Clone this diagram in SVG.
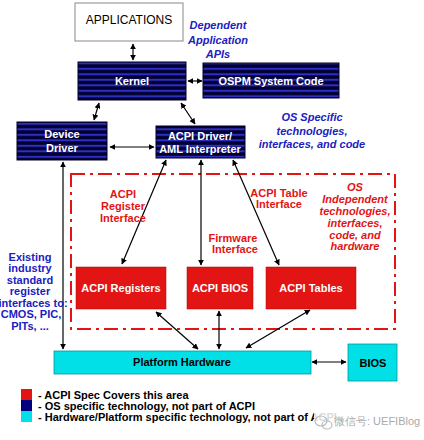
<svg xmlns="http://www.w3.org/2000/svg" width="424" height="440" viewBox="0 0 424 440">
<style>
text{font-family:"Liberation Sans",Arial,sans-serif;}
.nav{fill:url(#stripes);stroke:#000022;stroke-width:1}
.red{fill:#e31414;stroke:#b00000;stroke-width:0.5}
.cy{fill:#00e0e6;stroke:#009aa0;stroke-width:0.8}
.wl{fill:#ffffff;font-weight:bold;font-size:11px;text-anchor:middle}
.bl{fill:#000000;font-weight:bold;font-size:11px;text-anchor:middle}
.blue{fill:#2020c0;font-weight:bold;font-style:italic;font-size:11px;text-anchor:middle}
.blue2{fill:#2020c0;font-weight:bold;font-size:11px;text-anchor:middle}
.rl{fill:#e31414;font-weight:bold;font-size:11px;text-anchor:middle}
.ri{fill:#e31414;font-weight:bold;font-style:italic;font-size:11px;text-anchor:middle}
.lg{fill:#000000;font-weight:bold;font-size:11px}
.c{stroke:#000;stroke-width:1.2;fill:none;marker-start:url(#ah);marker-end:url(#ah)}
</style>
<defs>
<pattern id="stripes" patternUnits="userSpaceOnUse" width="8" height="5.5">
<rect width="8" height="5.5" fill="#000033"/>
<rect y="1.8" width="8" height="2" fill="#3030c0"/>
</pattern>
<marker id="ah" viewBox="0 0 10 10" refX="9" refY="5" markerWidth="6" markerHeight="6" orient="auto-start-reverse" markerUnits="userSpaceOnUse">
<path d="M0,0 L10,5 L0,10 z" fill="#000"/>
</marker>
</defs>

<g id="boundary">
<rect x="71" y="174" width="324" height="155" fill="none" stroke="#e31414" stroke-width="2" stroke-dasharray="14,5,3,5"/>
</g>

<g id="connectors">
<line class="c" x1="133" y1="44" x2="133" y2="60"/>
<line class="c" x1="188" y1="81" x2="202" y2="81"/>
<line class="c" x1="99" y1="103" x2="94" y2="120"/>
<line class="c" x1="181" y1="103" x2="195" y2="124"/>
<line class="c" x1="110" y1="147" x2="154" y2="147"/>
<line class="c" x1="166" y1="160" x2="122" y2="264"/>
<line class="c" x1="201" y1="160" x2="201" y2="265"/>
<line class="c" x1="233" y1="160" x2="279" y2="265"/>
<line class="c" x1="63" y1="162" x2="63" y2="349"/>
<line class="c" x1="156" y1="312" x2="198" y2="349"/>
<line class="c" x1="219" y1="311" x2="219" y2="349"/>
<line class="c" x1="310" y1="310" x2="246" y2="348"/>
<line class="c" x1="312" y1="362" x2="346" y2="362"/>
</g>

<g id="applications">
<rect x="75" y="3" width="108" height="38" fill="#ffffff" stroke="#888" stroke-width="1"/>
<text x="129" y="24" font-size="12" text-anchor="middle" fill="#000">APPLICATIONS</text>
</g>
<g id="kernel">
<rect class="nav" x="78" y="62" width="108" height="38"/>
<text class="wl" x="132" y="85">Kernel</text>
</g>
<g id="ospm">
<rect class="nav" x="203" y="63" width="136" height="35"/>
<text class="wl" x="271" y="85">OSPM System Code</text>
</g>
<g id="device-driver">
<rect class="nav" x="17" y="122" width="90" height="38"/>
<text class="wl" x="62" y="138">Device</text>
<text class="wl" x="62" y="152">Driver</text>
</g>
<g id="acpi-driver">
<rect class="nav" x="156" y="126" width="89" height="32"/>
<text class="wl" x="200" y="140">ACPI Driver/</text>
<text class="wl" x="200" y="153">AML Interpreter</text>
</g>
<g id="acpi-registers">
<rect class="red" x="76" y="267" width="90" height="42"/>
<text class="wl" x="121" y="292">ACPI Registers</text>
</g>
<g id="acpi-bios">
<rect class="red" x="187" y="267" width="66" height="42"/>
<text class="wl" x="220" y="292">ACPI BIOS</text>
</g>
<g id="acpi-tables">
<rect class="red" x="266" y="267" width="90" height="42"/>
<text class="wl" x="311" y="292">ACPI Tables</text>
</g>
<g id="platform-hardware">
<rect class="cy" x="54" y="351" width="257" height="23"/>
<text class="bl" x="182" y="366">Platform Hardware</text>
</g>
<g id="bios">
<rect class="cy" x="348" y="344" width="49" height="37"/>
<text class="bl" x="373" y="367">BIOS</text>
</g>

<g id="labels">
<text class="blue" x="218" y="29">Dependent</text>
<text class="blue" x="218" y="44">Application</text>
<text class="blue" x="218" y="58">APIs</text>
<text class="blue" x="312" y="121">OS Specific</text>
<text class="blue" x="312" y="135">technologies,</text>
<text class="blue" x="312" y="148">interfaces, and code</text>
<text class="rl" x="123" y="198">ACPI</text>
<text class="rl" x="123" y="210">Register</text>
<text class="rl" x="123" y="222">Interface</text>
<text class="rl" x="279" y="197">ACPI Table</text>
<text class="rl" x="279" y="208">Interface</text>
<text class="rl" x="233" y="242">Firmware</text>
<text class="rl" x="235" y="253">Interface</text>
<text class="ri" x="355" y="191">OS</text>
<text class="ri" x="355" y="203">Independent</text>
<text class="ri" x="355" y="215">technologies,</text>
<text class="ri" x="355" y="227">interfaces,</text>
<text class="ri" x="355" y="239">code, and</text>
<text class="ri" x="355" y="250">hardware</text>
<text class="blue2" x="30" y="261">Existing</text>
<text class="blue2" x="30" y="272">industry</text>
<text class="blue2" x="30" y="284">standard</text>
<text class="blue2" x="30" y="295">register</text>
<text class="blue2" x="33" y="307" font-size="10.5">interfaces to:</text>
<text class="blue2" x="31" y="318">CMOS, PIC,</text>
<text class="blue2" x="30" y="330">PITs, ...</text>
</g>

<g id="legend">
<rect x="21" y="389" width="11" height="11" fill="#e31414"/>
<rect x="21" y="400" width="11" height="11" fill="#000080"/>
<rect x="21" y="411" width="11" height="11" fill="#00e0e6"/>
<text class="lg" x="38" y="399">-  ACPI Spec Covers this area</text>
<text class="lg" x="38" y="410">-  OS specific technology, not part of ACPI</text>
<text class="lg" x="38" y="421">-  Hardware/Platform specific technology, not part of ACPI</text>
</g>

<g id="watermark">
<rect x="314" y="412" width="108" height="18" fill="#ffffff" opacity="0.85"/>
<ellipse cx="321" cy="421" rx="6" ry="5" fill="none" stroke="#bbbbbb" stroke-width="1.2"/>
<ellipse cx="327" cy="425" rx="5" ry="4" fill="none" stroke="#bbbbbb" stroke-width="1.2"/>
<text x="334" y="425" font-size="11" fill="#aaaaaa" font-family="'Liberation Sans','Noto Sans CJK SC',sans-serif">微信号: UEFIBlog</text>
</g>
</svg>
